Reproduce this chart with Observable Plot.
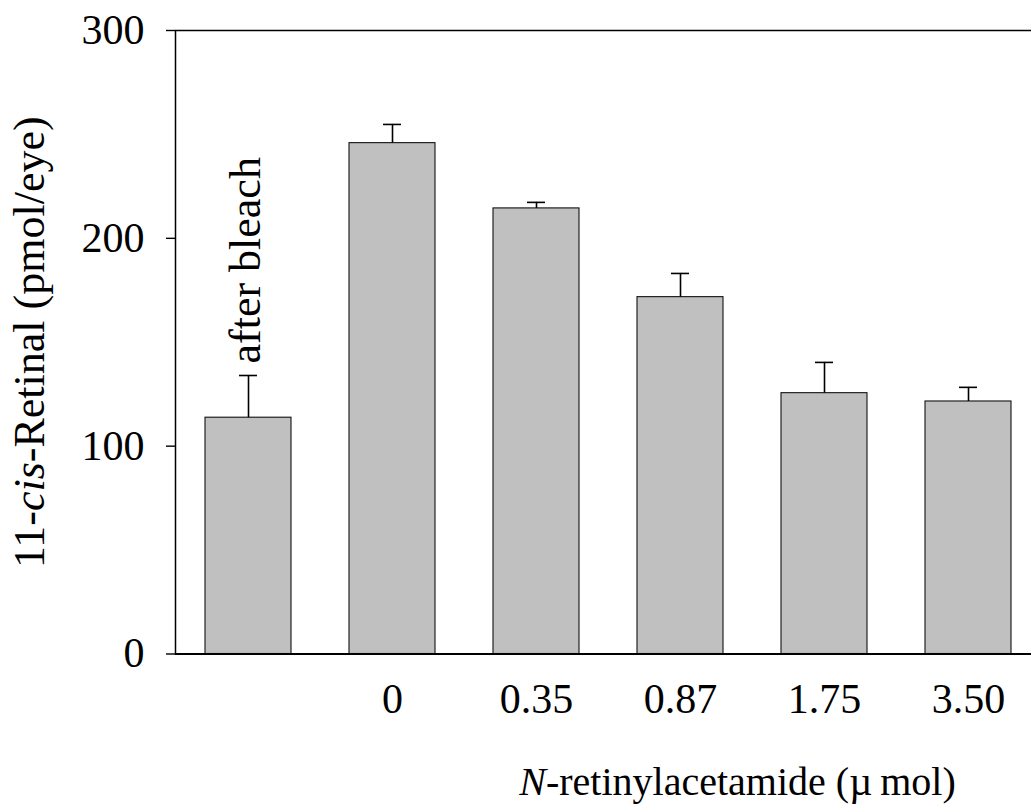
<!DOCTYPE html>
<html>
<head>
<meta charset="utf-8">
<script src="https://cdn.jsdelivr.net/npm/d3@7"></script>
<script src="https://cdn.jsdelivr.net/npm/@observablehq/plot@0.6"></script>
<style>
  html, body { margin: 0; padding: 0; background: #fff; overflow: hidden; }
</style>
</head>
<body>
<div id="chart"></div>
<script>
// 11-cis-retinal regenerated per eye after bleaching, by N-retinylacetamide dose
const doses = ["after bleach", "0", "0.35", "0.87", "1.75", "3.50"];
const retinal = [113.7, 245.8, 214.4, 171.7, 125.5, 121.5];   // pmol/eye
const sem = [20.3, 9.0, 2.9, 11.4, 14.8, 6.8];                 // upper error bar
const yTicks = [0, 100, 200, 300];
const bleachLabel = ["after bleach"];

const rows = doses.map((d, i) => ({dose: d, value: retinal[i], hi: retinal[i] + sem[i]}));
const bleachRows = rows.filter(r => bleachLabel.includes(r.dose));

const serif = "'Liberation Serif', 'Times New Roman', serif";
const yTitle = "11-cis-Retinal (pmol/eye)";
const xTitle = "N-retinylacetamide (\u00B5\u2009mol)";

const chart = Plot.plot({
  width: 1031,
  height: 806,
  marginTop: 30,
  marginBottom: 152.5,
  marginLeft: 175,
  marginRight: -10,
  style: {fontFamily: serif, fontSize: "42px", color: "#000", background: "#fff", overflow: "hidden"},
  x: {domain: doses, paddingInner: 0.4, paddingOuter: 0.2, label: null},
  y: {domain: [0, 300], label: null},
  marks: [
    Plot.barY(rows, {x: "dose", y: "value", fill: "#c0c0c0", stroke: "#111", strokeWidth: 1.1}),
    Plot.ruleX(rows, {x: "dose", y1: "value", y2: "hi", stroke: "#000", strokeWidth: 1.6}),
    Plot.tickY(rows, {x: "dose", y: "hi", insetLeft: 34, insetRight: 34, stroke: "#000", strokeWidth: 1.6}),
    Plot.text(bleachRows, {x: "dose", y: "hi", text: "dose", rotate: -90, textAnchor: "start", lineAnchor: "middle", dx: -3, dy: -12, fontSize: 44, fontFamily: serif, fill: "#000"}),
    Plot.frame({stroke: "#000", strokeWidth: 1.5}),
    Plot.ruleY([0], {stroke: "#000", strokeWidth: 2}),
    Plot.axisY({ticks: yTicks, tickSize: 9, tickPadding: 22, tickFormat: d => String(d), strokeWidth: 1.4, fontSize: 42, fontFamily: serif, label: null}),
    Plot.axisX({tickSize: 0, tickPadding: 29, tickFormat: d => bleachLabel.includes(d) ? "" : d, fontSize: 42, fontFamily: serif, label: null}),
    Plot.text([yTitle], {frameAnchor: "left", rotate: -90, textAnchor: "middle", lineAnchor: "middle", dx: -146, fontSize: 44, fontFamily: serif, fill: "#000"}),
    Plot.text([xTitle], {frameAnchor: "bottom", textAnchor: "middle", lineAnchor: "middle", dx: 129, dy: 128, fontSize: 40, fontFamily: serif, fill: "#000"})
  ]
});

// Italicise "cis" and "N" in the axis titles
d3.select(chart).selectAll("text").each(function () {
  const t = d3.select(this);
  const s = this.textContent;
  if (s === yTitle) {
    this.textContent = "";
    t.append("tspan").text("11-");
    t.append("tspan").attr("font-style", "italic").text("cis");
    t.append("tspan").text("-Retinal (pmol/eye)");
  } else if (s === xTitle) {
    this.textContent = "";
    t.append("tspan").attr("font-style", "italic").text("N");
    t.append("tspan").text("-retinylacetamide (\u00B5\u2009mol)");
  }
});

document.getElementById("chart").appendChild(chart);
</script>
</body>
</html>
